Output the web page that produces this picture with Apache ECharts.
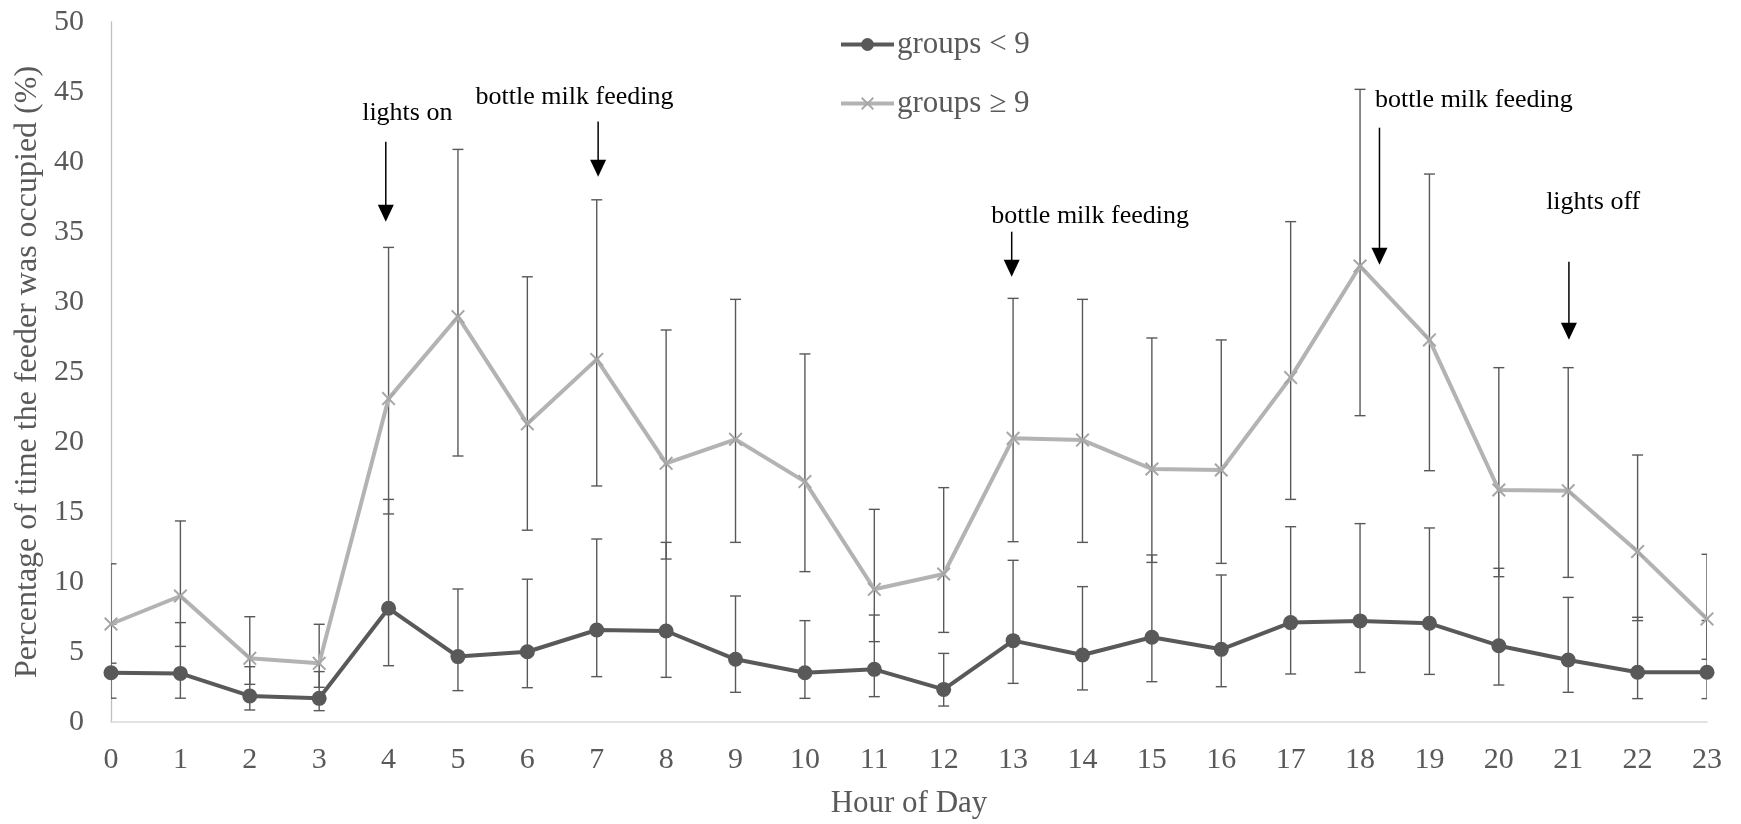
<!DOCTYPE html>
<html>
<head>
<meta charset="utf-8">
<title>Feeder occupancy by hour</title>
<script src="https://cdn.jsdelivr.net/npm/echarts@6.0.0/dist/echarts.min.js"></script>
<style>
  html, body { margin: 0; padding: 0; background: #fff; }
  #chart { width: 1741px; height: 824px; }
</style>
</head>
<body>
<div id="chart"></div>
<script>
// hour of day (x axis)
const hours = [0, 1, 2, 3, 4, 5, 6, 7, 8, 9, 10, 11, 12, 13, 14, 15, 16, 17, 18, 19, 20, 21, 22, 23];

// groups < 9 : mean and error bar ends (%)
const smallMean = [3.52, 3.47, 1.86, 1.69, 8.12, 4.67, 5.02, 6.57, 6.5, 4.48, 3.52, 3.76, 2.33, 5.81, 4.79, 6.05, 5.19, 7.1, 7.22, 7.05, 5.45, 4.43, 3.55, 3.55];
const smallLow = [1.7, 1.7, 0.86, 0.81, 4.02, 2.24, 2.45, 3.24, 3.19, 2.12, 1.69, 1.81, 1.14, 2.76, 2.29, 2.88, 2.52, 3.43, 3.54, 3.4, 2.64, 2.12, 1.67, 1.67];
const smallHigh = [7.0, 7.1, 3.95, 3.6, 15.9, 9.5, 10.2, 13.07, 12.83, 9.0, 7.24, 7.64, 4.9, 11.55, 9.67, 11.93, 10.5, 13.95, 14.17, 13.86, 10.98, 8.9, 7.48, 7.25];

// groups >= 9 : mean and error bar ends (%)
const largeMean = [7.0, 9.0, 4.55, 4.19, 23.1, 28.95, 21.3, 25.9, 18.48, 20.19, 17.17, 9.48, 10.57, 20.26, 20.14, 18.07, 18.0, 24.6, 32.57, 27.29, 16.57, 16.52, 12.17, 7.36];
const largeLow = [4.2, 5.4, 2.69, 2.48, 14.86, 19.0, 13.7, 16.86, 11.64, 12.83, 10.74, 5.74, 6.4, 12.88, 12.83, 11.4, 11.33, 15.9, 21.88, 17.95, 10.38, 10.33, 7.24, 4.48];
const largeHigh = [11.3, 14.36, 7.52, 6.98, 33.9, 40.9, 31.8, 37.3, 28.0, 30.19, 26.29, 15.19, 16.74, 30.26, 30.19, 27.43, 27.29, 35.74, 45.19, 39.14, 25.31, 25.31, 19.07, 11.98];

// event annotations (hour / % coordinates)
const eventText = ["lights on", "bottle milk feeding", "bottle milk feeding", "bottle milk feeding", "lights off"];
const eventArrowHour = [3.96, 7.02, 12.98, 18.28, 21.01];
const eventArrowFrom = [41.45, 42.9, 35.02, 42.45, 32.88];
const eventArrowTo = [35.74, 38.95, 31.8, 32.66, 27.31];
const eventTextHour = [4.27, 6.68, 14.11, 19.64, 21.36];
const eventTextValue = [43.5, 44.66, 36.15, 44.44, 37.16];

const seriesNames = ["groups < 9", "groups \u2265 9"];

const FONT = "'Liberation Serif', 'Times New Roman', serif";
const DARK = "#595959";
const LIGHT = "#b3b3b3";
const CROSS = "path://M0,1L1,0L5,4L9,0L10,1L6,5L10,9L9,10L5,6L1,10L0,9L4,5Z";

const zip = (...cols) => hours.map((h, i) => [h, ...cols.map((c) => c[i])]);

const renderErrorBar = (params, api) => {
  const x = api.value(0);
  const low = api.coord([x, api.value(1)]);
  const high = api.coord([x, api.value(2)]);
  const half = 5.5;
  const style = { stroke: DARK, lineWidth: 1.4 };
  return {
    type: "group",
    children: [
      { type: "line", shape: { x1: low[0], y1: low[1], x2: high[0], y2: high[1] }, style },
      { type: "line", shape: { x1: low[0] - half, y1: low[1], x2: low[0] + half, y2: low[1] }, style },
      { type: "line", shape: { x1: high[0] - half, y1: high[1], x2: high[0] + half, y2: high[1] }, style },
    ],
  };
};

const renderEvent = (params, api) => {
  const i = params.dataIndex;
  const from = api.coord([api.value(0), api.value(1)]);
  const to = api.coord([api.value(0), api.value(2)]);
  const label = api.coord([api.value(3), api.value(4)]);
  const head = 17;
  const halfHead = 8;
  return {
    type: "group",
    children: [
      {
        type: "line",
        shape: { x1: from[0], y1: from[1], x2: to[0], y2: to[1] - head + 1 },
        style: { stroke: "#000", lineWidth: 1.5 },
      },
      {
        type: "polygon",
        shape: { points: [[to[0] - halfHead, to[1] - head], [to[0] + halfHead, to[1] - head], [to[0], to[1]]] },
        style: { fill: "#000" },
      },
      {
        type: "text",
        x: label[0],
        y: label[1],
        style: {
          text: eventText[i],
          fill: "#000",
          font: "26px " + FONT,
          align: "center",
          verticalAlign: "middle",
        },
      },
    ],
  };
};

const chart = echarts.init(document.getElementById("chart"));

chart.setOption({
  animation: false,
  backgroundColor: "#fff",
  grid: { left: 111, right: 34, top: 22, bottom: 102 },
  legend: {
    data: seriesNames,
    orient: "vertical",
    left: 834,
    top: 24,
    itemWidth: 53,
    itemHeight: 16,
    itemGap: 28,
    lineStyle: { width: 4 },
    textStyle: { fontFamily: FONT, fontSize: 31, color: DARK, padding: [0, 0, 0, -2] },
  },
  xAxis: {
    type: "value",
    min: 0,
    max: 23,
    interval: 1,
    name: "Hour of Day",
    nameLocation: "middle",
    nameGap: 66,
    nameTextStyle: { fontFamily: FONT, fontSize: 31, color: DARK },
    axisLine: { show: true, lineStyle: { color: "#d9d9d9", width: 1.5 } },
    axisTick: { show: false },
    splitLine: { show: false },
    axisLabel: { fontFamily: FONT, fontSize: 30, color: DARK, margin: 23 },
  },
  yAxis: {
    type: "value",
    min: 0,
    max: 50,
    interval: 5,
    name: "Percentage of time the feeder was occupied (%)",
    nameLocation: "middle",
    nameGap: 66,
    nameTextStyle: { fontFamily: FONT, fontSize: 32, color: DARK },
    axisLine: { show: true, lineStyle: { color: "#bfbfbf", width: 1.3 } },
    axisTick: { show: false },
    splitLine: { show: false },
    axisLabel: { fontFamily: FONT, fontSize: 30, color: DARK, margin: 27 },
  },
  series: [
    {
      type: "custom",
      name: "err-small",
      renderItem: renderErrorBar,
      data: zip(smallLow, smallHigh),
      encode: { x: 0, y: [1, 2] },
      clip: true,
      z: 1,
      silent: true,
    },
    {
      type: "custom",
      name: "err-large",
      renderItem: renderErrorBar,
      data: zip(largeLow, largeHigh),
      encode: { x: 0, y: [1, 2] },
      clip: true,
      z: 1,
      silent: true,
    },
    {
      type: "line",
      name: seriesNames[0],
      data: zip(smallMean),
      symbol: "circle",
      symbolSize: 15,
      lineStyle: { color: DARK, width: 4 },
      itemStyle: { color: DARK },
      z: 3,
    },
    {
      type: "line",
      name: seriesNames[1],
      data: zip(largeMean),
      symbol: CROSS,
      symbolSize: 14,
      lineStyle: { color: LIGHT, width: 4 },
      itemStyle: { color: "#a6a6a6" },
      z: 4,
    },
    {
      type: "custom",
      name: "events",
      renderItem: renderEvent,
      data: eventArrowHour.map((h, i) => [h, eventArrowFrom[i], eventArrowTo[i], eventTextHour[i], eventTextValue[i]]),
      encode: { x: 0, y: 1 },
      clip: false,
      z: 5,
      silent: true,
    },
  ],
});
</script>
</body>
</html>
